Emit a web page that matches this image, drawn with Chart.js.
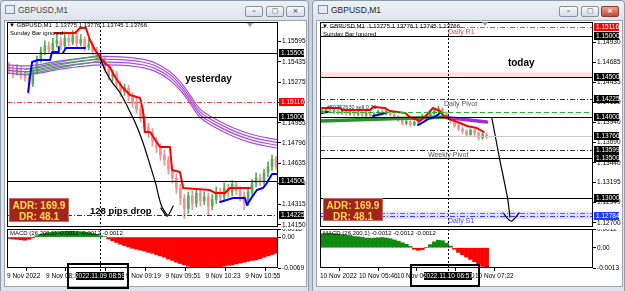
<!DOCTYPE html>
<html>
<head>
<meta charset="utf-8">
<title>GBPUSD M1</title>
<script src="https://cdn.jsdelivr.net/npm/chart.js@4.4.1/dist/chart.umd.min.js"></script>
<style>
  html, body { margin: 0; padding: 0; }
  body { width: 625px; height: 291px; overflow: hidden; position: relative; background: #c9d1da; font-family: 'Liberation Sans', Arial, sans-serif; }
  .win { position: absolute; top: 0; height: 293px; box-sizing: border-box; border: 1px solid #8f9aa7; border-radius: 4px 4px 0 0; background: linear-gradient(#eef2f6, #dde4ec 19px, #dde4ec); }
  .inner { position: absolute; top: 20px; height: 267px; box-sizing: border-box; background: #fff; border: 1px solid #9ca5af; }
  .title { position: absolute; top: 5px; font: 8.5px 'Liberation Sans Narrow', 'Liberation Sans', sans-serif; color: #4a4a4a; }
  .icon { position: absolute; top: 5px; width: 10px; height: 9px; box-sizing: border-box; border: 1px solid #6f8fb3; background: #e4edf7; }
  .btn { position: absolute; top: 6px; height: 11px; box-sizing: border-box; border: 1px solid #87919c; border-radius: 2px; background: linear-gradient(#f7f9fb, #d6dde5); font: bold 7px 'DejaVu Sans', sans-serif; color: #5a6470; text-align: center; line-height: 9px; }
  .btn.close { background: linear-gradient(#eba193, #c4473a); color: #fff; border-color: #8c3a32; }
  canvas { position: absolute; }
  .lbl { position: absolute; white-space: nowrap; font: 6px 'Liberation Sans', sans-serif; color: #000; line-height: 7px; }
  .adr { position: absolute; box-sizing: border-box; background: #a3241e; border: 1px solid #c96a62; color: #ffd84a; font: bold 10px 'Liberation Sans', sans-serif; line-height: 11px; text-align: center; padding-top: 1px; }
  .frame { position: absolute; box-sizing: border-box; border: 2px solid #000; }
  .tri { position: absolute; width: 0; height: 0; border-left: 3px solid transparent; border-right: 3px solid transparent; border-top: 4px solid #9a9a9a; }
</style>
</head>
<body>

<div class="win" style="left:0;width:309px"></div>
<div class="win" style="left:312px;width:313px"></div>
<div class="icon" style="left:5px"></div>
<div class="title" style="left:18px">GBPUSD,M1</div>
<div class="icon" style="left:318px"></div>
<div class="title" style="left:331px;color:#222">GBPUSD,M1</div>
<div class="btn" style="left:245px;width:18px">&#8211;</div>
<div class="btn" style="left:266px;width:18px">&#9633;</div>
<div class="btn" style="left:286px;width:19px">&#215;</div>
<div class="btn" style="left:559px;width:19px">&#8211;</div>
<div class="btn" style="left:581px;width:18px">&#9633;</div>
<div class="btn close" style="left:601px;width:18px">&#215;</div>
<div class="inner" style="left:4px;width:303px"></div>
<div class="inner" style="left:316px;width:307px"></div>

<canvas id="lp" width="300" height="205" style="left:7px;top:22px"></canvas>
<canvas id="lm" width="300" height="62" style="left:7px;top:229px"></canvas>
<canvas id="rp" width="302" height="205" style="left:320px;top:22px"></canvas>
<canvas id="rm" width="302" height="62" style="left:320px;top:229px"></canvas>

<div class="lbl" style="left:9px;top:22px">&#9660; GBPUSD,M1&nbsp; 1.13775 1.13776 1.13745 1.13766</div>
<div class="lbl" style="left:10px;top:30px">Sunday Bar ignored</div>
<div class="lbl" style="left:322px;top:23px">&#9660; GBPUSD,M1&nbsp; 1.13775 1.13776 1.13745 1.13766</div>
<div class="lbl" style="left:323px;top:31px">Sunday Bar Ignored</div>
<div class="lbl" style="left:327px;top:104px;font-size:5.5px;color:#333">#50352630 sell 0.20</div>
<div class="tri" style="left:247px;top:23px"></div>
<div class="tri" style="left:482px;top:22px"></div>

<div class="adr" style="left:9px;top:198px;width:60px;height:24px">ADR: 169.9<br>DR: 48.1</div>
<div class="adr" style="left:323px;top:198px;width:60px;height:23px">ADR: 169.9<br>DR: 48.1</div>

<div class="frame" style="left:67px;top:263px;width:62px;height:26px"></div>
<div class="frame" style="left:410px;top:264px;width:70px;height:23px"></div>

<script>
const FONT = "'Liberation Sans', Arial, sans-serif";
const NARROW = "'Liberation Sans Narrow', 'Liberation Sans', Arial, sans-serif";

// ---------- left window: 9 Nov (yesterday) ----------
const leftClose = [1.1537,1.1535,1.1538,1.1533,1.1531,1.1526,1.1536,1.1545,1.1552,1.1556,
  1.1553,1.1558,1.1560,1.1556,1.1562,1.1559,1.1564,1.1558,1.1561,1.1555,
  1.1557,1.1552,1.1549,1.1546,1.1538,1.1532,1.1534,1.1526,1.1520,1.1523,
  1.1516,1.1512,1.1506,1.1499,1.1492,1.1488,1.1481,1.1476,1.1470,1.1466,
  1.1459,1.1452,1.1444,1.1436,1.1428,1.1438,1.1432,1.1440,1.1434,1.1437,
  1.1430,1.1435,1.1441,1.1437,1.1444,1.1441,1.1447,1.1442,1.1438,1.1433,
  1.1441,1.1448,1.1452,1.1449,1.1456,1.1461,1.1467,1.1462];
const leftHigh = [1.1543,1.1540,1.1541,1.1540,1.1536,1.1533,1.1538,1.1548,1.1555,1.1560,
  1.1559,1.1562,1.1565,1.1563,1.1567,1.1565,1.1568,1.1566,1.1565,1.1563,
  1.1561,1.1559,1.1555,1.1552,1.1548,1.1541,1.1537,1.1536,1.1528,1.1526,
  1.1525,1.1519,1.1515,1.1509,1.1502,1.1495,1.1491,1.1484,1.1479,1.1474,
  1.1469,1.1462,1.1455,1.1447,1.1439,1.1441,1.1442,1.1444,1.1443,1.1441,
  1.1440,1.1439,1.1445,1.1444,1.1448,1.1447,1.1450,1.1449,1.1445,1.1441,
  1.1444,1.1451,1.1456,1.1455,1.1459,1.1465,1.1470,1.1469];
const leftLow = [1.1534,1.1531,1.1533,1.1530,1.1528,1.1518,1.1524,1.1534,1.1543,1.1549,
  1.1550,1.1551,1.1555,1.1553,1.1554,1.1556,1.1557,1.1555,1.1556,1.1552,
  1.1553,1.1549,1.1546,1.1542,1.1535,1.1529,1.1528,1.1523,1.1516,1.1517,
  1.1513,1.1508,1.1503,1.1496,1.1488,1.1484,1.1477,1.1472,1.1466,1.1462,
  1.1455,1.1448,1.1440,1.1431,1.1420,1.1424,1.1427,1.1429,1.1430,1.1431,
  1.1423,1.1427,1.1432,1.1433,1.1434,1.1437,1.1438,1.1439,1.1434,1.1427,
  1.1430,1.1438,1.1445,1.1446,1.1447,1.1453,1.1458,1.1459];
const leftOpen = [1.1540].concat(leftClose.slice(0, -1));

const leftMacd = [-0.0003,-0.0004,-0.0005,-0.0006,-0.0007,-0.0005,-0.0002,
  0.0003,0.0006,0.0008,0.0010,0.0011,0.0012,0.0012,0.0013,0.0013,0.0013,0.0012,0.0012,0.0011,0.0010,0.0008,0.0006,0.0003,0.0001,
  -0.0004,-0.0008,-0.0012,-0.0016,-0.0019,-0.0022,-0.0025,-0.0027,-0.0029,-0.0031,
  -0.0034,-0.0036,-0.0039,-0.0042,-0.0045,-0.0049,-0.0052,-0.0056,-0.0059,-0.0062,
  -0.0065,-0.0066,-0.0067,-0.0067,-0.0067,-0.0067,-0.0067,-0.0067,-0.0066,-0.0065,
  -0.0063,-0.0062,-0.0060,-0.0058,-0.0056,-0.0054,-0.0052,-0.0051,-0.0048,-0.0045,
  -0.0042,-0.0039,-0.0036,-0.0033];

const leftRed = [[11.5,1.15661],[16.6,1.15661],[17.8,1.15701],[19.3,1.15701],[20.3,1.15606],[21.6,1.15528],
  [22.8,1.15472],[24.1,1.15425],[25.3,1.15394],[26.6,1.15315],[28.4,1.15236],[30.4,1.15173],[32.9,1.15150],
  [33.6,1.15055],[34.1,1.14882],[35.4,1.14882],[37.9,1.14764],[40.4,1.14764],[40.9,1.14583],[42.9,1.14567],
  [43.7,1.14441],[50.4,1.14425],[51.7,1.14402],[54.2,1.14402],[55.4,1.14441],[60.5,1.14441]];
const leftBlue1 = [[4.8,1.15197],[5.5,1.15370],[5.8,1.15433],[7.3,1.15449],[10.3,1.15449],[10.8,1.15512],[12.3,1.15512],[12.5,1.15551]];
const leftBlue2 = [[13.5,1.15504],[14.3,1.15543],[19.1,1.15543]];
const leftBlue3 = [[53.0,1.14331],[56.2,1.14362],[59.2,1.14362],[59.7,1.14307],[61.0,1.14370],[62.2,1.14425],
  [63.7,1.14441],[64.7,1.14480],[66.0,1.14551],[67.4,1.14551]];
const leftPurple = [[-0.5,1.15378],[5.3,1.15370],[12.8,1.15409],[21.6,1.15441],[27.9,1.15441],[32.9,1.15425],
  [36.6,1.15394],[40.4,1.15323],[43.4,1.15228],[45.4,1.15142],[47.9,1.15031],[51.2,1.14961],[56.2,1.14882],
  [61.2,1.14827],[67.5,1.14787]];
const leftGreen = [[4.0,1.15352],[10.3,1.15394],[15.3,1.15425],[20.3,1.15449],[22.8,1.15465]];
const leftBlack = [[22.8,1.15472],[24.1,1.15370],[25.8,1.15276],[27.9,1.15189],[29.9,1.15071],[31.6,1.14961],
  [33.4,1.14819],[35.4,1.14622],[36.9,1.14465],[37.6,1.14370],[38.4,1.14291],[39.7,1.14228]];
const leftArrow = [[38.1,1.14283],[39.7,1.14220],[41.2,1.14299]];

const leftPriceTicks = [1.15595,1.15435,1.15275,1.15115,1.14955,1.14796,1.14635,1.14475,1.14315,1.14150];
const leftSolid = [1.155, 1.150, 1.145];
const leftPivot = [1.14225];
const leftR1 = [1.15116];
const leftMacdTicks = [0.0018, 0, -0.0069];
const leftMacdLabels = ['0.0018', '0.00', '-0.0069'];
const leftTimePos = [-0.5, 9.3, 19.3, 29.3, 39.3, 49.3, 59.3];
const leftTimeLabels = ['9 Nov 2022','9 Nov 08:15','9 Nov 08:47','9 Nov 09:19','9 Nov 09:51','9 Nov 10:23','9 Nov 10:55'];
const leftMarker = 22.8;

// ---------- right window: 10 Nov (today) ----------
const rightClose = [1.1408,1.1410,1.1407,1.1409,1.1406,1.1408,1.1405,1.1407,1.1404,1.1406,
  1.1403,1.1406,1.1402,1.1404,1.1407,1.1405,1.1408,1.1404,1.1401,1.1397,
  1.1393,1.1395,1.1391,1.1394,1.1398,1.1402,1.1400,1.1405,1.1408,1.1411,
  1.1406,1.1400,1.1396,1.1390,1.1386,1.1383,1.1379,1.1384,1.1381,1.1375,
  1.1379,1.13766];
const rightHigh = [1.1410,1.1412,1.1411,1.1411,1.1410,1.1410,1.1409,1.1409,1.1408,1.1408,
  1.1407,1.1408,1.1407,1.1406,1.1409,1.1409,1.1410,1.1409,1.1405,1.1402,
  1.1398,1.1397,1.1396,1.1396,1.1400,1.1404,1.1404,1.1407,1.1410,1.1414,
  1.1412,1.1407,1.1401,1.1397,1.1392,1.1388,1.1385,1.1386,1.1386,1.1382,
  1.1381,1.1381];
const rightLow = [1.1404,1.1406,1.1405,1.1405,1.1404,1.1404,1.1403,1.1403,1.1402,1.1402,
  1.1401,1.1401,1.1400,1.1400,1.1402,1.1403,1.1403,1.1402,1.1399,1.1395,
  1.1391,1.1391,1.1389,1.1390,1.1392,1.1397,1.1398,1.1399,1.1403,1.1406,
  1.1404,1.1398,1.1393,1.1388,1.1384,1.1380,1.1377,1.1378,1.1377,1.1372,
  1.1373,1.1374];
const rightOpen = [1.1406].concat(rightClose.slice(0, -1));

const rightMacd = [0.0009,0.0009,0.0009,0.0009,0.00088,0.00085,0.0008,0.00078,0.00072,0.0007,
  0.00066,0.00062,0.0006,0.00062,0.00064,0.00065,0.00062,0.00058,0.0005,0.00042,
  0.00032,0.00022,0.00008,-0.0001,-0.00016,-0.00012,0.00002,0.0002,0.00038,0.00048,
  0.00045,0.0003,0.0001,-0.0001,-0.0003,-0.00045,-0.0006,-0.00075,-0.0009,-0.00105,
  -0.0012,-0.0013];

const rightRed = [[0,1.14117],[4.5,1.14117],[5,1.14093],[12,1.14093],[12.7,1.14130],[15.7,1.14117],[16.9,1.14080],
  [20.7,1.14056],[21.9,1.14006],[24.4,1.13957],[26.1,1.14031],[27.6,1.14117],[29.4,1.14080],[30.6,1.14006],
  [32.4,1.13969],[34.4,1.13932],[36.1,1.13895],[38.6,1.13870],[40.3,1.13821]];
const rightBlue1 = [[-0.5,1.14056],[1.5,1.14068]];
const rightBlue2 = [[12.7,1.14019],[13.9,1.14031],[15.7,1.14056]];
const rightBlue3 = [[23.9,1.13907],[25.2,1.13944],[26.4,1.13981],[28.1,1.14006],[29.4,1.14056]];
const rightGreen = [[-0.5,1.13957],[31.0,1.14006]];
const rightPurple = [[30.0,1.14006],[41.0,1.13944]];
const rightBlack = [[42.3,1.13994],[44.3,1.13475],[46.3,1.12981],[46.8,1.12771]];
const rightArrow = [[45.1,1.12821],[47.1,1.12722],[49.1,1.12821]];

const rightPriceTicks = [1.14930,1.14685,1.14435,1.14189,1.13940,1.13690,1.13440,1.13195,1.12949,1.12700];
const rightSolid = [1.150, 1.145, 1.140, 1.135, 1.130];
const rightPivots = [1.14225, 1.13599];
const rightR1 = [1.15116];
const rightRedLow = [1.12820];
const rightS1 = [1.12784];
const rightOrder = [1.14068];
const rightBid = [1.13766];
const rightPinkZone = [1.14500, 1.14560];
const rightBlueZone = [1.12745, 1.12840];
const rightMacdTicks = [0.0012, 0, -0.0013];
const rightMacdLabels = ['0.0012', '0.00', '-0.0013'];
const rightTimePos = [-0.5, 9.2, 18.7, 28.4, 38.1];
const rightTimeLabels = ['10 Nov 2022','10 Nov 05:46','10 Nov 06:18','10 Nov 06:50','10 Nov 07:22'];
const rightMarker = 31.4;

// ---------- helpers ----------
function candleSets(open, close, high, low) {
  const col = close.map((c, i) => c >= open[i] ? '#5aaa5a' : '#f39191');
  return [
    { type: 'bar', data: close.map((c, i) => ({ x: i, y: [low[i], high[i]] })), backgroundColor: col, barThickness: 1, grouped: false, order: 20 },
    { type: 'bar', data: close.map((c, i) => ({ x: i, y: [open[i], c] })), backgroundColor: col, barThickness: 2, minBarLength: 1, grouped: false, order: 19 }
  ];
}

function lineSet(pts, color, width, order, tension) {
  return {
    type: 'line', data: pts.map(p => ({ x: p[0], y: p[1] })),
    borderColor: color, borderWidth: width, pointRadius: 0, fill: false,
    tension: tension || 0, order: order, borderJoinStyle: 'round', borderCapStyle: 'round'
  };
}

function bandSets(pts, spread, color, width, order) {
  return spread.map(d => lineSet(pts.map(p => [p[0], p[1] + d]), color, width, order, 0.4));
}

function yAxis(min, max, ticks, fmt) {
  return {
    position: 'right', min: min, max: max,
    afterBuildTicks: s => { s.ticks = ticks.map(v => ({ value: v })); },
    afterFit: s => { s.width = 29; s.paddingTop = 0; s.paddingBottom = 0; },
    grid: { drawOnChartArea: false, drawTicks: true, tickLength: 3, color: '#000' },
    border: { display: false },
    ticks: { autoSkip: false, padding: 1, color: '#000', font: { size: 6.5, family: NARROW }, callback: fmt }
  };
}

const DASHDOT = [5, 2, 1, 2];

function priceOverlay(o) {
  return {
    id: 'priceOverlay',
    beforeDatasetsDraw(chart) {
      const { ctx, chartArea: a, scales: { y } } = chart;
      ctx.save();
      o.bands.forEach(b => {
        const y1 = y.getPixelForValue(b.from), y2 = y.getPixelForValue(b.to);
        ctx.fillStyle = b.color;
        ctx.fillRect(a.left, Math.min(y1, y2), a.width, Math.abs(y2 - y1));
      });
      ctx.restore();
    },
    afterDatasetsDraw(chart) {
      const { ctx, chartArea: a, scales: { x, y } } = chart;
      ctx.save();
      ctx.beginPath(); ctx.rect(a.left, a.top, a.width, a.height); ctx.clip();
      o.levels.forEach(l => {
        const py = Math.round(y.getPixelForValue(l.v)) + 0.5;
        ctx.strokeStyle = l.color; ctx.lineWidth = 1; ctx.setLineDash(l.dash || []);
        ctx.beginPath(); ctx.moveTo(a.left, py); ctx.lineTo(a.right, py); ctx.stroke();
      });
      const mx = Math.round(x.getPixelForValue(o.marker)) + 0.5;
      ctx.strokeStyle = '#000'; ctx.setLineDash([2, 2]);
      ctx.beginPath(); ctx.moveTo(mx, a.top); ctx.lineTo(mx, a.bottom); ctx.stroke();
      ctx.setLineDash([]);
      o.texts.forEach(t => {
        ctx.font = t.font; ctx.fillStyle = t.color; ctx.textAlign = 'left';
        ctx.textBaseline = t.base || 'middle';
        ctx.fillText(t.text, x.getPixelForValue(t.x), y.getPixelForValue(t.y) + (t.dy || 0));
      });
      ctx.restore();
      ctx.save();
      ctx.strokeStyle = '#000'; ctx.lineWidth = 1;
      ctx.strokeRect(a.left + 0.5, a.top + 0.5, a.width - 1, a.height - 1);
      ctx.restore();
    },
    afterDraw(chart) {
      const { ctx, chartArea: a, scales: { y } } = chart;
      ctx.save();
      ctx.font = '6.5px ' + NARROW; ctx.textBaseline = 'middle'; ctx.textAlign = 'left';
      o.boxes.forEach(b => {
        const py = Math.round(y.getPixelForValue(b.v));
        ctx.fillStyle = b.bg; ctx.fillRect(a.right + 1, py - 4, 25, 8);
        ctx.fillStyle = '#fff'; ctx.fillText(b.v.toFixed(5), a.right + 3, py + 0.5);
      });
      ctx.restore();
    }
  };
}

function macdOverlay(o) {
  return {
    id: 'macdOverlay',
    afterDatasetsDraw(chart) {
      const { ctx, chartArea: a, scales: { x } } = chart;
      ctx.save();
      ctx.font = '6px ' + FONT; ctx.fillStyle = '#000'; ctx.textBaseline = 'middle'; ctx.textAlign = 'left';
      ctx.fillText('MACD (26,200,1) -0.0012 -0.0012 -0.0012', a.left + 3, a.top + 4.5);
      const mx = Math.round(x.getPixelForValue(o.marker)) + 0.5;
      ctx.strokeStyle = '#000'; ctx.lineWidth = 1; ctx.setLineDash([2, 2]);
      ctx.beginPath(); ctx.moveTo(mx, a.top); ctx.lineTo(mx, a.bottom + 4); ctx.stroke();
      ctx.setLineDash([]);
      ctx.strokeRect(a.left + 0.5, a.top + 0.5, a.width - 1, a.height - 1);
      ctx.restore();
    },
    afterDraw(chart) {
      const { ctx, chartArea: a, scales: { x } } = chart;
      const mx = Math.round(x.getPixelForValue(o.marker));
      ctx.save();
      ctx.fillStyle = '#000'; ctx.fillRect(mx - 24, a.bottom + 4, 48, 8);
      ctx.fillStyle = '#fff'; ctx.font = '6.5px ' + NARROW; ctx.textAlign = 'center'; ctx.textBaseline = 'middle';
      ctx.fillText(o.label, mx, a.bottom + 8.5);
      ctx.restore();
    }
  };
}

function baseOptions(scales) {
  return {
    responsive: false, animation: false, devicePixelRatio: 1,
    layout: { padding: 0 },
    plugins: { legend: { display: false }, tooltip: { enabled: false } },
    scales: scales
  };
}

function macdChart(id, values, yMin, yMax, yTicks, yLabels, timePos, timeLabels, marker, label) {
  return new Chart(document.getElementById(id), {
    type: 'bar',
    data: { datasets: [{
      data: values.map((v, i) => ({ x: i, y: v })),
      backgroundColor: values.map(v => v >= 0 ? '#0f8a0f' : '#ff0000'),
      barPercentage: 1, categoryPercentage: 1, borderWidth: 0
    }] },
    options: baseOptions({
      x: {
        type: 'linear', min: -0.5, max: 67.5, offset: false, position: 'bottom',
        afterBuildTicks: s => { s.ticks = timePos.map(v => ({ value: v })); },
        afterFit: s => { s.height = 23; s.paddingLeft = 0; s.paddingRight = 0; },
        grid: { drawOnChartArea: false, drawTicks: true, tickLength: 3, color: '#000' },
        border: { display: false },
        ticks: { autoSkip: false, maxRotation: 0, align: 'start', padding: 1, color: '#000',
                 font: { size: 6.5, family: NARROW }, callback: (v, i) => timeLabels[i] }
      },
      y: yAxis(yMin, yMax, yTicks, (v, i) => yLabels[i])
    }),
    plugins: [macdOverlay({ marker: marker, label: label })]
  });
}

const fmt5 = v => Number(v).toFixed(5);

// ---------- left price ----------
new Chart(document.getElementById('lp'), {
  type: 'bar',
  data: { datasets: [
    ...candleSets(leftOpen, leftClose, leftHigh, leftLow),
    ...bandSets(leftPurple, [0.00033, 0.00011, -0.00011, -0.00033], '#a64ce0', 1.2, 15),
    ...bandSets(leftGreen, [0.00022, 0, -0.00022], '#3ea64a', 1.2, 14),
    lineSet(leftRed, '#ff0000', 2, 10),
    lineSet(leftBlue1, '#0000ff', 2, 9),
    lineSet(leftBlue2, '#0000ff', 2, 9),
    lineSet(leftBlue3, '#0000ff', 2, 9),
    lineSet(leftBlack, '#000', 1.2, 5, 0.35),
    lineSet(leftArrow, '#000', 1.2, 5, 0.3)
  ] },
  options: baseOptions({
    x: { type: 'linear', min: -0.5, max: 67.5, offset: false, display: false },
    y: yAxis(1.14134, 1.15748, leftPriceTicks, fmt5)
  }),
  plugins: [priceOverlay({
    bands: [],
    levels: [
      ...leftSolid.map(v => ({ v: v, color: '#000' })),
      ...leftPivot.map(v => ({ v: v, color: '#333', dash: DASHDOT })),
      ...leftR1.map(v => ({ v: v, color: '#ff3c3c', dash: DASHDOT }))
    ],
    marker: leftMarker,
    texts: [
      { text: 'yesterday', x: 44.2, y: 1.15299, font: 'bold 10px ' + FONT, color: '#000' },
      { text: '128 pips drop', x: 20.3, y: 1.14260, font: 'bold 9.5px ' + FONT, color: '#000' }
    ],
    boxes: [
      ...leftSolid.map(v => ({ v: v, bg: '#000' })),
      ...leftPivot.map(v => ({ v: v, bg: '#000' })),
      ...leftR1.map(v => ({ v: v, bg: '#ff0000' }))
    ]
  })]
});

macdChart('lm', leftMacd, -0.0069, 0.0018, leftMacdTicks, leftMacdLabels, leftTimePos, leftTimeLabels, leftMarker, '2022.11.09 08:59');

// ---------- right price ----------
new Chart(document.getElementById('rp'), {
  type: 'bar',
  data: { datasets: [
    ...candleSets(rightOpen, rightClose, rightHigh, rightLow),
    lineSet(rightGreen, '#2b8f2b', 3.5, 15),
    lineSet(rightPurple, '#9b30d9', 3.5, 15),
    lineSet(rightRed, '#ff0000', 2, 10),
    lineSet(rightBlue1, '#0000ff', 2, 9),
    lineSet(rightBlue2, '#0000ff', 2, 9),
    lineSet(rightBlue3, '#0000ff', 2, 9),
    lineSet(rightBlack, '#000', 1.2, 5, 0.2),
    lineSet(rightArrow, '#000', 1.2, 5, 0.3)
  ] },
  options: baseOptions({
    x: { type: 'linear', min: -0.5, max: 67.5, offset: false, display: false },
    y: yAxis(1.12648, 1.15179, rightPriceTicks, fmt5)
  }),
  plugins: [priceOverlay({
    bands: [
      { from: rightPinkZone[0], to: rightPinkZone[1], color: '#ffe0e0' },
      { from: rightBlueZone[0], to: rightBlueZone[1], color: '#dedff8' }
    ],
    levels: [
      ...rightBid.map(v => ({ v: v, color: '#c8c8c8' })),
      ...rightSolid.map(v => ({ v: v, color: '#000' })),
      ...rightPivots.map(v => ({ v: v, color: '#333', dash: DASHDOT })),
      ...rightOrder.map(v => ({ v: v, color: '#2fae2f', dash: [5, 3] })),
      ...rightR1.map(v => ({ v: v, color: '#ff3c3c', dash: DASHDOT })),
      ...rightRedLow.map(v => ({ v: v, color: '#ff3c3c', dash: DASHDOT })),
      ...rightS1.map(v => ({ v: v, color: '#3c3cff', dash: DASHDOT }))
    ],
    marker: rightMarker,
    texts: [
      { text: 'today', x: 46.3, y: 1.14673, font: 'bold 10px ' + FONT, color: '#000' },
      { text: 'Daily R1', x: 31.4, y: rightR1[0], dy: 1.5, base: 'top', font: '7px ' + FONT, color: '#ff4040' },
      { text: 'Daily Pivot', x: 30.4, y: rightPivots[0], dy: 1.5, base: 'top', font: '7px ' + FONT, color: '#555' },
      { text: 'Weekly Pivot', x: 26.4, y: rightPivots[1], dy: 1.5, base: 'top', font: '7px ' + FONT, color: '#555' },
      { text: 'Daily S1', x: 31.4, y: rightS1[0], dy: 2, base: 'top', font: '7px ' + FONT, color: '#4040ff' }
    ],
    boxes: [
      ...rightSolid.map(v => ({ v: v, bg: '#000' })),
      ...rightPivots.map(v => ({ v: v, bg: '#000' })),
      ...rightBid.map(v => ({ v: v, bg: '#000' })),
      ...rightR1.map(v => ({ v: v, bg: '#ff0000' })),
      ...rightS1.map(v => ({ v: v, bg: '#1a3cff' }))
    ]
  })]
});

macdChart('rm', rightMacd, -0.0013, 0.0012, rightMacdTicks, rightMacdLabels, rightTimePos, rightTimeLabels, rightMarker, '2022.11.10 06:57');
</script>
</body>
</html>
